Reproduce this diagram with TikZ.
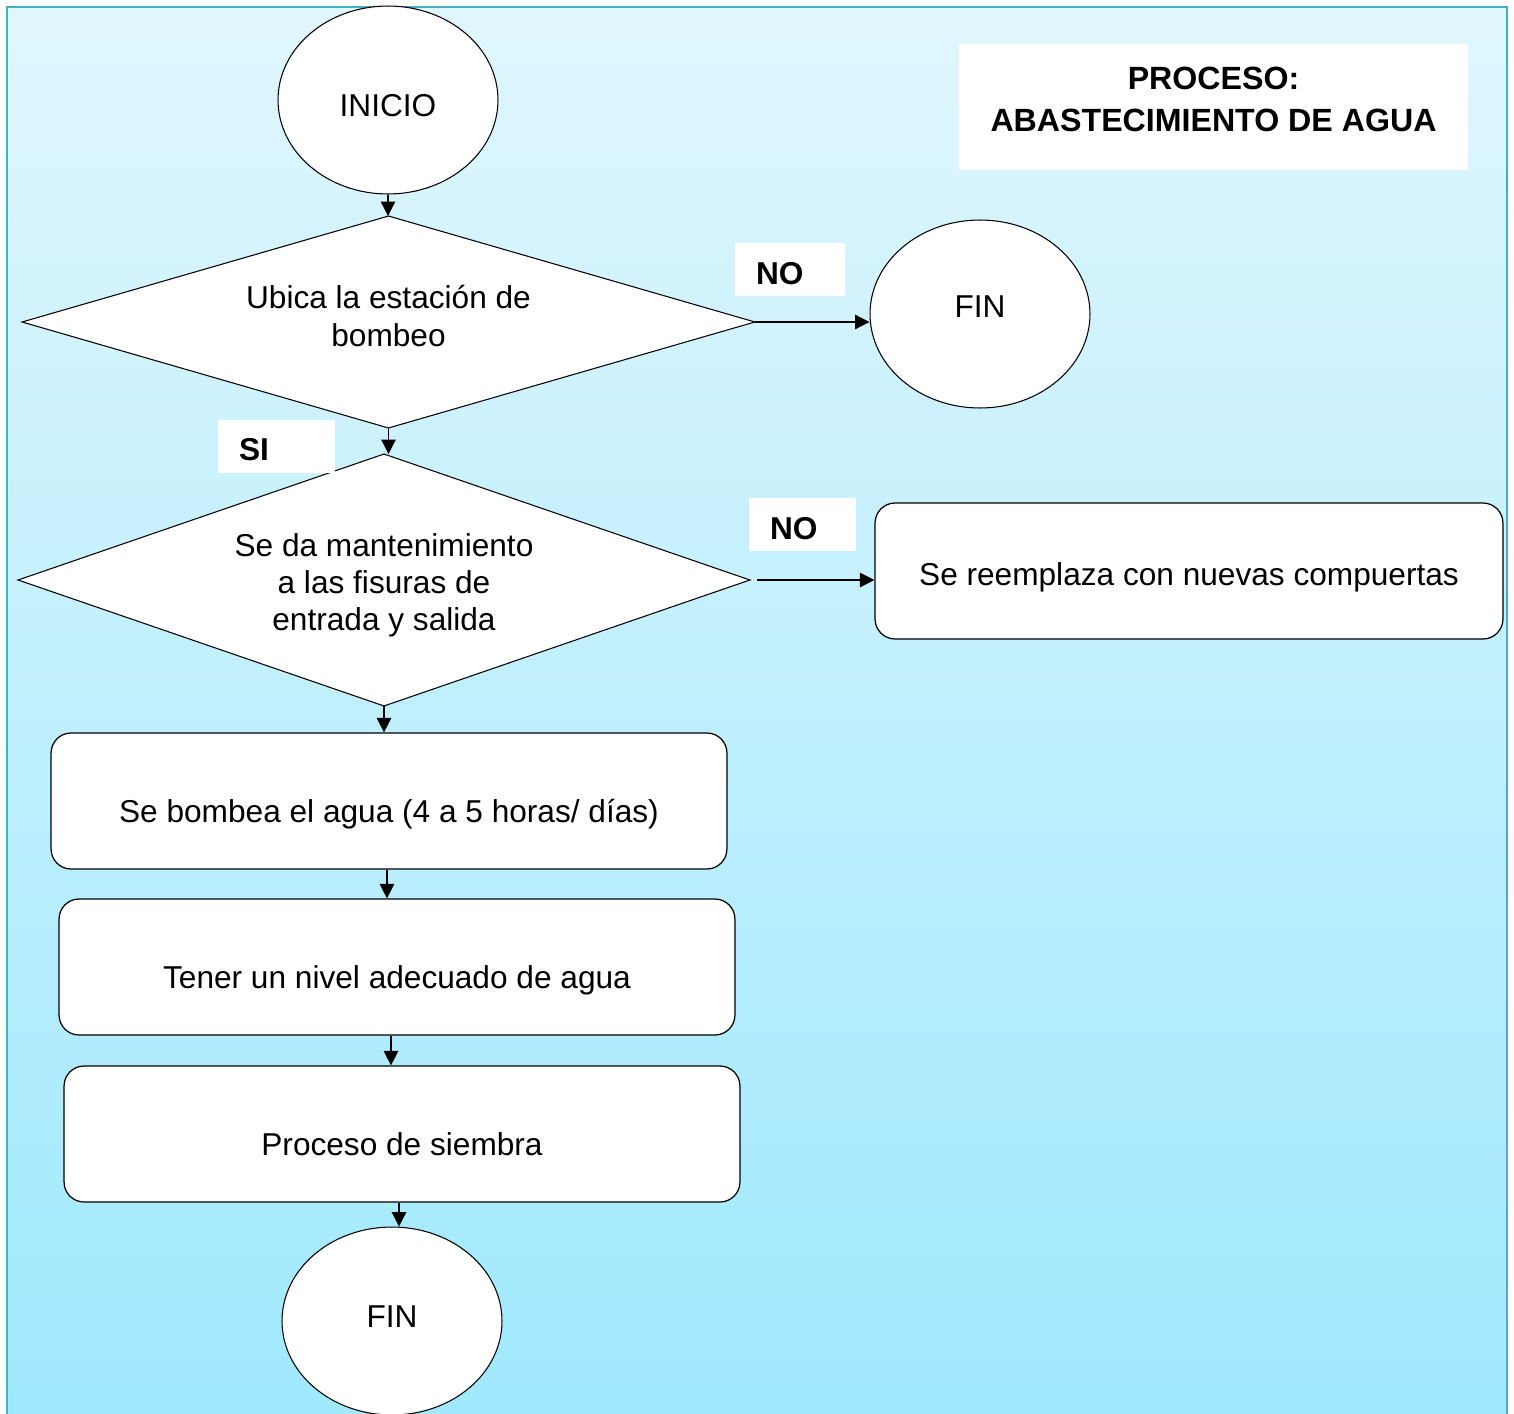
\documentclass[tikz,border=0pt]{standalone}
\usepackage{fontspec}
\setmainfont{Liberation Sans}
\usepackage{xcolor}
\usetikzlibrary{shapes.geometric,arrows.meta}

\definecolor{fondoArriba}{RGB}{224,246,253}
\definecolor{fondoAbajo}{RGB}{160,233,254}
\definecolor{borde}{RGB}{75,172,198}

\begin{document}
\begin{tikzpicture}[x=0.02cm,y=-0.02cm,
    font=\fontsize{18}{21}\selectfont,
    flecha/.style={-{Triangle[length=2.9mm,width=2.9mm]},line width=0.7pt},
    circulo/.style={ellipse,draw,fill=white,line width=0.6pt,minimum width=4.4cm,minimum height=3.76cm},
    rombo/.style={diamond,draw,fill=white,line width=0.6pt,inner sep=0pt,outer sep=0pt,align=center},
    caja/.style={rectangle,rounded corners=0.4cm,draw,fill=white,line width=0.7pt,minimum width=13.52cm,minimum height=2.72cm,text height=28pt,text depth=4pt},
    etiqueta/.style={fill=white,font=\fontsize{18}{21}\selectfont\bfseries,minimum height=1.06cm,inner xsep=0.42cm,align=left,text height=17pt,text depth=0pt}]

    \clip (0,0) rectangle (1514,1413);
    \shade[top color=fondoArriba,bottom color=fondoAbajo] (7,7) rectangle (1507,1413);
    \draw[borde,line width=1.2pt] (7,1420) -- (7,7) -- (1507,7) -- (1507,1420);

    \node[fill=white,minimum width=10.18cm,minimum height=2.52cm,align=center,text depth=9pt,
          font=\fontsize{18.3}{24}\selectfont\bfseries] (titulo) at (1213.5,107) {PROCESO:\\ABASTECIMIENTO DE AGUA};

    \node[circulo,text height=23pt,text depth=4pt] (inicio) at (388,100) {INICIO};
    \node[rombo,shape aspect=3.46,minimum width=14.66cm,minimum height=4.24cm,text depth=7pt] (ubica) at (388.5,322) {Ubica la estación de\\[1pt]bombeo};
    \node[circulo,text depth=8pt] (finA) at (980,314) {FIN};
    \node[rombo,shape aspect=2.9,minimum width=14.64cm,minimum height=5.04cm,text height=60.7pt] (mant) at (384,580) {Se da mantenimiento\\a las fisuras de\\entrada y salida};
    \node[caja,minimum width=12.56cm,text height=21pt] (reemplaza) at (1189,571) {Se reemplaza con nuevas compuertas};
    \node[caja] (bombea) at (389,801) {Se bombea el agua (4 a 5 horas/ días)};
    \node[caja] (nivel) at (397,967) {Tener un nivel adecuado de agua};
    \node[caja] (siembra) at (402,1134) {Proceso de siembra};
    \node[circulo,text depth=5pt] (finB) at (392,1321) {FIN};

    \node[etiqueta,text width=1.36cm] (noA) at (790,269.5) {NO};
    \node[etiqueta,text width=1.30cm] (noB) at (802.5,524.5) {NO};
    \node[etiqueta,text width=1.50cm] (si) at (276.5,446) {SI};

    \draw[flecha] (inicio.south) -- (inicio.south |- ubica.north);
    \draw[flecha] (ubica.east) -- (ubica.east -| finA.west);
    \draw[flecha] (ubica.south) -- (ubica.south |- mant.north);
    \draw[flecha,shorten <=0.14cm] (mant.east) -- (mant.east -| reemplaza.west);
    \draw[flecha] (mant.south) -- (mant.south |- bombea.north);
    \draw[flecha] ([xshift=-0.04cm]bombea.south) -- ([xshift=-0.04cm]bombea.south |- nivel.north);
    \draw[flecha] ([xshift=-0.12cm]nivel.south) -- ([xshift=-0.12cm]nivel.south |- siembra.north);
    \draw[flecha] ([xshift=-0.06cm]siembra.south) -- ([xshift=-0.06cm]siembra.south |- finB.north);
\end{tikzpicture}
\end{document}
